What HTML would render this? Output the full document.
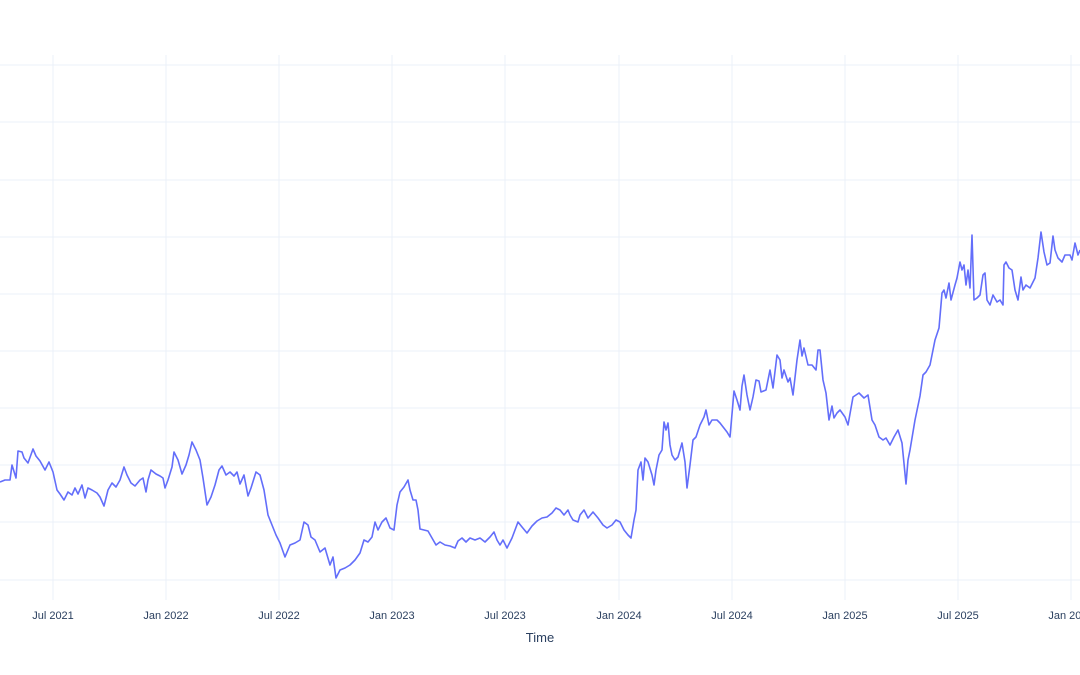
<!DOCTYPE html>
<html><head><meta charset="utf-8"><style>
html,body{margin:0;padding:0;background:#fff;width:1080px;height:675px;overflow:hidden}
svg text{font-family:"Liberation Sans",sans-serif;fill:#2a3f5f}
</style></head><body>
<svg width="1080" height="675" viewBox="0 0 1080 675">
<g stroke="#ebf0f8" stroke-width="1">
<line x1="0" x2="1080" y1="65" y2="65"/><line x1="0" x2="1080" y1="122" y2="122"/>
<line x1="0" x2="1080" y1="180" y2="180"/><line x1="0" x2="1080" y1="237" y2="237"/>
<line x1="0" x2="1080" y1="294" y2="294"/><line x1="0" x2="1080" y1="351" y2="351"/>
<line x1="0" x2="1080" y1="408" y2="408"/><line x1="0" x2="1080" y1="465" y2="465"/>
<line x1="0" x2="1080" y1="522" y2="522"/><line x1="0" x2="1080" y1="580" y2="580"/>
<line y1="55" y2="600" x1="53" x2="53"/><line y1="55" y2="600" x1="166" x2="166"/>
<line y1="55" y2="600" x1="279" x2="279"/><line y1="55" y2="600" x1="392" x2="392"/>
<line y1="55" y2="600" x1="505" x2="505"/><line y1="55" y2="600" x1="619" x2="619"/>
<line y1="55" y2="600" x1="732" x2="732"/><line y1="55" y2="600" x1="845" x2="845"/>
<line y1="55" y2="600" x1="958" x2="958"/><line y1="55" y2="600" x1="1071" x2="1071"/>
</g>
<polyline fill="none" stroke="#636efa" stroke-width="1.6" stroke-linejoin="round" points="
0,482 5,480 10,480 12,465 16,478 18,451 22,452 24,458 28,463 33,449 36,456 40,461 45,470 49,462 53,472 57,490 60,494 64,500 68,492 72,495 75,488 78,494 82,485 85,498 88,488 92,490 97,493 100,497 104,506 108,490 112,483 116,487 120,480 124,467 127,475 131,483 135,486 140,480 143,478 146,492 148,480 151,470 156,474 160,476 163,478 165,488 168,480 172,467 174,452 178,460 182,474 186,465 189,455 192,442 196,450 200,460 203,478 207,505 211,497 215,485 219,470 222,466 226,475 230,472 234,476 237,472 240,484 244,475 248,496 251,488 256,472 260,475 264,490 268,515 272,525 276,535 280,543 285,557 290,545 295,543 300,540 304,522 308,525 311,537 315,540 320,552 325,548 330,565 333,557 336,578 340,570 345,568 350,565 355,560 360,553 364,540 368,542 372,537 375,522 378,530 382,522 386,518 390,528 394,530 397,505 400,492 404,487 408,480 410,490 413,500 416,500 418,510 420,529 424,530 428,531 432,538 436,545 440,542 445,545 450,546 455,548 458,541 462,538 466,542 470,538 475,540 480,538 485,542 490,537 494,532 497,540 500,545 503,540 507,548 512,538 515,530 518,522 522,527 527,533 532,526 537,521 542,518 547,517 552,513 556,508 560,510 564,515 568,510 570,515 573,520 578,522 580,515 584,510 588,518 593,512 598,518 603,525 607,528 612,525 616,520 620,522 624,530 628,535 631,538 634,520 636,510 638,470 641,462 643,480 645,458 648,462 652,475 654,485 656,470 659,455 662,450 664,422 666,430 668,423 670,445 672,455 675,460 678,457 682,443 685,462 687,488 690,465 693,440 696,437 700,425 704,417 706,410 709,425 712,420 717,420 720,423 727,432 730,437 734,391 737,400 740,410 742,386 744,375 747,395 750,410 753,397 756,380 759,381 761,392 766,390 770,370 773,388 777,355 780,360 782,378 784,370 788,382 790,378 793,395 797,360 800,340 802,356 804,348 808,365 812,365 816,370 818,350 820,350 823,380 826,393 829,420 832,406 834,418 837,413 840,410 845,417 848,425 853,397 856,395 859,393 864,398 868,395 872,420 875,425 879,437 883,440 886,438 890,445 894,437 898,430 902,443 906,484 908,460 910,450 915,420 920,396 923,375 926,372 930,365 932,355 935,340 939,328 942,293 944,290 946,298 949,283 951,300 955,285 957,278 960,262 962,270 964,265 966,285 968,270 970,288 972,235 974,300 977,298 980,295 983,275 985,273 987,300 990,305 993,295 997,302 1000,300 1003,305 1004,265 1006,262 1009,268 1012,270 1015,290 1018,300 1021,277 1023,290 1026,285 1030,288 1035,278 1038,258 1041,232 1044,252 1047,265 1050,263 1053,236 1055,250 1058,258 1062,262 1065,255 1070,255 1072,260 1075,243 1078,255 1080,250"/>
<g font-size="11" text-anchor="middle">
<text x="53" y="619">Jul 2021</text><text x="166" y="619">Jan 2022</text>
<text x="279" y="619">Jul 2022</text><text x="392" y="619">Jan 2023</text>
<text x="505" y="619">Jul 2023</text><text x="619" y="619">Jan 2024</text>
<text x="732" y="619">Jul 2024</text><text x="845" y="619">Jan 2025</text>
<text x="958" y="619">Jul 2025</text><text x="1071" y="619">Jan 2026</text>
</g>
<text x="540" y="642" font-size="13" text-anchor="middle">Time</text>
</svg>
</body></html>
